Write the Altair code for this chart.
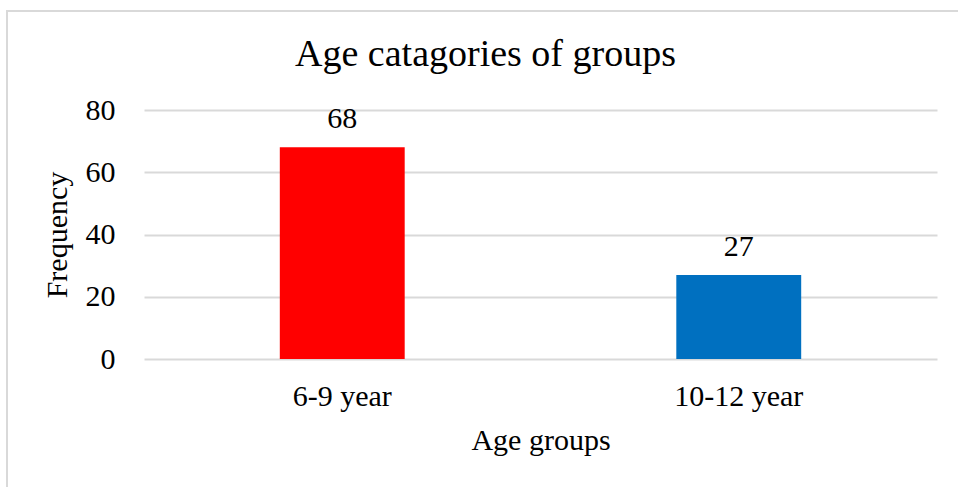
import altair as alt
import pandas as pd

# Age group frequencies
groups = ["6-9 year", "10-12 year"]
frequency = [68, 27]
bar_colors = ["#FF0000", "#0070C0"]

df = pd.DataFrame({"group": groups, "frequency": frequency, "color": bar_colors})

FONT = "Liberation Serif"

x_enc = alt.X(
    "group:N",
    sort=groups,
    title="Age groups",
    scale=alt.Scale(paddingInner=0, paddingOuter=0),
    axis=alt.Axis(
        labelAngle=0,
        labelFont=FONT,
        labelFontSize=30,
        labelColor="#000000",
        labelPadding=22,
        titleFont=FONT,
        titleFontSize=30,
        titleFontWeight="normal",
        titleColor="#000000",
        titlePadding=14,
        domain=False,
        ticks=False,
        grid=False,
    ),
)
y_enc = alt.Y(
    "frequency:Q",
    title="Frequency",
    scale=alt.Scale(domain=[0, 80]),
    axis=alt.Axis(
        values=[0, 20, 40, 60, 80],
        labelFont=FONT,
        labelFontSize=30,
        labelColor="#000000",
        labelPadding=29,
        titleFont=FONT,
        titleFontSize=30,
        titleFontWeight="normal",
        titleColor="#000000",
        titlePadding=13,
        domain=False,
        ticks=False,
        grid=True,
        gridColor="#D9D9D9",
        gridWidth=2,
    ),
)

bars = alt.Chart(df).mark_bar(width=alt.RelativeBandSize(0.315)).encode(
    x=x_enc,
    y=y_enc,
    color=alt.Color("color:N", scale=None),
)

labels = alt.Chart(df).mark_text(
    font=FONT, fontSize=30, color="#000000", baseline="alphabetic", dy=-19
).encode(
    x=alt.X("group:N", sort=groups, axis=alt.Axis(grid=False, domain=False, ticks=False)),
    y="frequency:Q",
    text="frequency:Q",
)

# light outline around the whole chart
frame = alt.Chart(df).mark_rect(
    fill=None, stroke="#D9D9D9", strokeWidth=2, clip=False
).encode(
    x=alt.value(-137), x2=alt.value(816), y=alt.value(-99), y2=alt.value(384)
).transform_filter(alt.datum.group == groups[0])

chart = (
    alt.layer(frame, bars, labels, view=alt.ViewBackground(stroke=None, strokeWidth=0))
    .properties(
        width=793,
        height=249,
        title=alt.TitleParams(
            "Age catagories of groups",
            font=FONT,
            fontSize=38,
            fontWeight="normal",
            color="#000000",
            anchor="middle",
            frame="group",
            baseline="alphabetic",
            dx=-55,
            offset=-94,
        ),
        autosize=alt.AutoSizeParams(type="none"),
        padding={"left": 144, "top": 110, "right": 21, "bottom": 128},
    )
    .configure_view(strokeWidth=0, stroke=None)
    .configure_axisX(grid=False, domain=False)
    .configure_axisY(domain=False)
    .configure(background="#FFFFFF")
)

chart.save("out.html", embed_options={"renderer": "svg", "actions": False})
